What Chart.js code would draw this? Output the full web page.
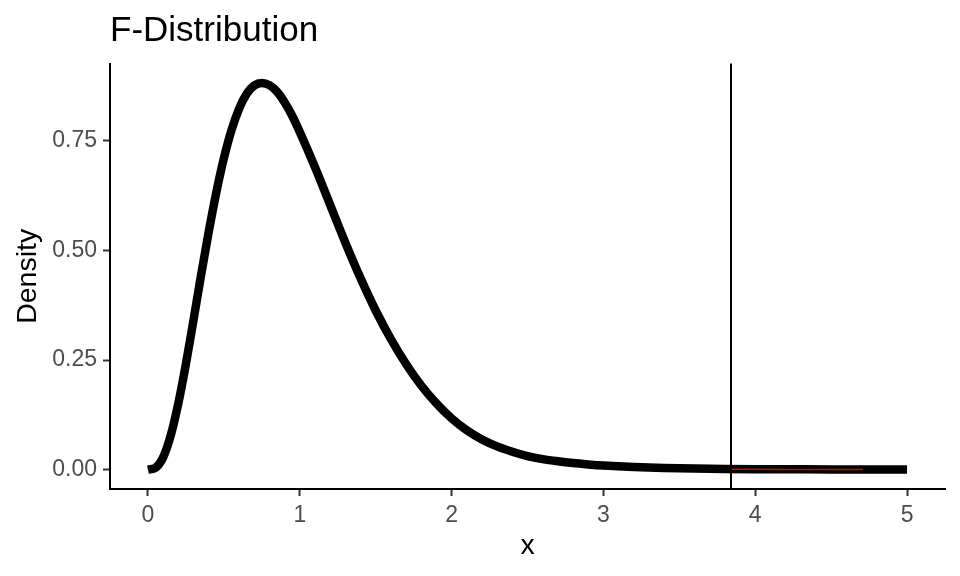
<!DOCTYPE html>
<html>
<head>
<meta charset="utf-8">
<script src="https://cdn.jsdelivr.net/npm/chart.js@4/dist/chart.umd.min.js"></script>
<style>
  html, body { margin: 0; padding: 0; background: #ffffff; }
  #wrap { width: 960px; height: 576px; }
</style>
</head>
<body>
<div id="wrap"><canvas id="fChart" width="960" height="576"></canvas></div>
<script>
// density curve
const xValues = [0, 0.05, 0.1, 0.15, 0.2, 0.25, 0.3, 0.35, 0.4, 0.45, 0.5, 0.55, 0.6, 0.65, 0.7, 0.75,
                 0.8, 0.85, 0.9, 0.95, 1.0, 1.1, 1.2, 1.3, 1.4, 1.5, 1.6, 1.7, 1.8, 1.9, 2.0, 2.1, 2.2,
                 2.3, 2.4, 2.5, 2.6, 2.7, 2.8, 2.9, 3.0, 3.2, 3.4, 3.6, 3.8, 4.0, 4.25, 4.5, 4.75, 5.0];
const densityValues = [0, 0.0043, 0.028, 0.078, 0.151, 0.241, 0.341, 0.444, 0.542, 0.632, 0.710, 0.774,
                       0.823, 0.857, 0.876, 0.882, 0.877, 0.862, 0.838, 0.807, 0.770, 0.690, 0.604,
                       0.518, 0.437, 0.363, 0.298, 0.241, 0.192, 0.151, 0.117, 0.090, 0.069, 0.053,
                       0.041, 0.031, 0.024, 0.019, 0.015, 0.012, 0.0095, 0.006, 0.0038, 0.0025,
                       0.0017, 0.0012, 0.0008, 0.0005, 0.0003, 0.0002];

// shaded tail (red) beyond the critical value
const tailX = [3.84, 4.0, 4.2, 4.4, 4.6, 4.71];
const tailY = [0.0008, 0.0007, 0.0006, 0.0005, 0.0004, 0.0004];

const criticalX = 3.84;

const xTicks = [0, 1, 2, 3, 4, 5];
const xTickLabels = ["0", "1", "2", "3", "4", "5"];
const yTicks = [0, 0.25, 0.5, 0.75];
const yTickLabels = ["0.00", "0.25", "0.50", "0.75"];

const FONT = "'Liberation Sans', Arial, sans-serif";

/* ---------------------------
   vertical reference line
---------------------------- */
const vlinePlugin = {
    id: "vline",
    afterDatasetsDraw(chart) {
        const { ctx, chartArea, scales } = chart;
        const px = Math.round(scales.x.getPixelForValue(criticalX));
        ctx.save();
        ctx.strokeStyle = "#000000";
        ctx.lineWidth = 2;
        ctx.beginPath();
        ctx.moveTo(px, chartArea.top);
        ctx.lineTo(px, chartArea.bottom);
        ctx.stroke();
        ctx.restore();
    }
};

const ctx = document.getElementById("fChart").getContext("2d");

new Chart(ctx, {
    type: "line",
    data: {
        datasets: [
            {
                label: "density",
                data: xValues.map((x, i) => ({ x, y: densityValues[i] })),
                borderColor: "#000000",
                borderWidth: 8.5,
                cubicInterpolationMode: "monotone",
                pointRadius: 0,
                fill: false,
                order: 2
            },
            {
                label: "tail",
                data: tailX.map((x, i) => ({ x, y: tailY[i] })),
                borderColor: "#cc0000",
                borderWidth: 1.5,
                pointRadius: 0,
                fill: false,
                order: 1
            }
        ]
    },
    options: {
        responsive: false,
        animation: false,
        layout: {
            padding: { left: 0, right: 15, top: 0, bottom: 0 }
        },
        scales: {
            x: {
                type: "linear",
                min: -0.25,
                max: 5.25,
                afterBuildTicks: axis => {
                    axis.ticks = xTicks.map(v => ({ value: v }));
                },
                afterFit: scale => { scale.height = 87; },
                ticks: {
                    callback: (v, i) => xTickLabels[i],
                    color: "#4d4d4d",
                    font: { family: FONT, size: 23 },
                    padding: 6,
                    maxRotation: 0,
                    autoSkip: false
                },
                grid: {
                    drawOnChartArea: false,
                    drawTicks: true,
                    tickLength: 7,
                    tickColor: "#333333",
                    tickWidth: 2
                },
                border: { display: true, color: "#000000", width: 2 },
                title: {
                    display: true,
                    text: "x",
                    color: "#000000",
                    font: { family: FONT, size: 28.5 },
                    padding: { top: 0, bottom: 12.7 }
                }
            },
            y: {
                type: "linear",
                min: -0.0441,
                max: 0.926,
                afterBuildTicks: axis => {
                    axis.ticks = yTicks.map(v => ({ value: v }));
                },
                afterFit: scale => { scale.width = 110; },
                ticks: {
                    callback: (v, i) => yTickLabels[i],
                    color: "#4d4d4d",
                    font: { family: FONT, size: 23 },
                    padding: 6,
                    autoSkip: false
                },
                grid: {
                    drawOnChartArea: false,
                    drawTicks: true,
                    tickLength: 7,
                    tickColor: "#333333",
                    tickWidth: 2
                },
                border: { display: true, color: "#000000", width: 2 },
                title: {
                    display: true,
                    text: "Density",
                    color: "#000000",
                    font: { family: FONT, size: 28.5 },
                    padding: { top: 10.6, bottom: 0 }
                }
            }
        },
        plugins: {
            legend: { display: false },
            tooltip: { enabled: false },
            title: {
                display: true,
                text: "F-Distribution",
                align: "start",
                fullSize: false,
                color: "#000000",
                font: { family: FONT, size: 35, weight: "normal" },
                padding: { top: 10.6, bottom: 11 }
            }
        }
    },
    plugins: [vlinePlugin]
});
</script>
</body>
</html>
